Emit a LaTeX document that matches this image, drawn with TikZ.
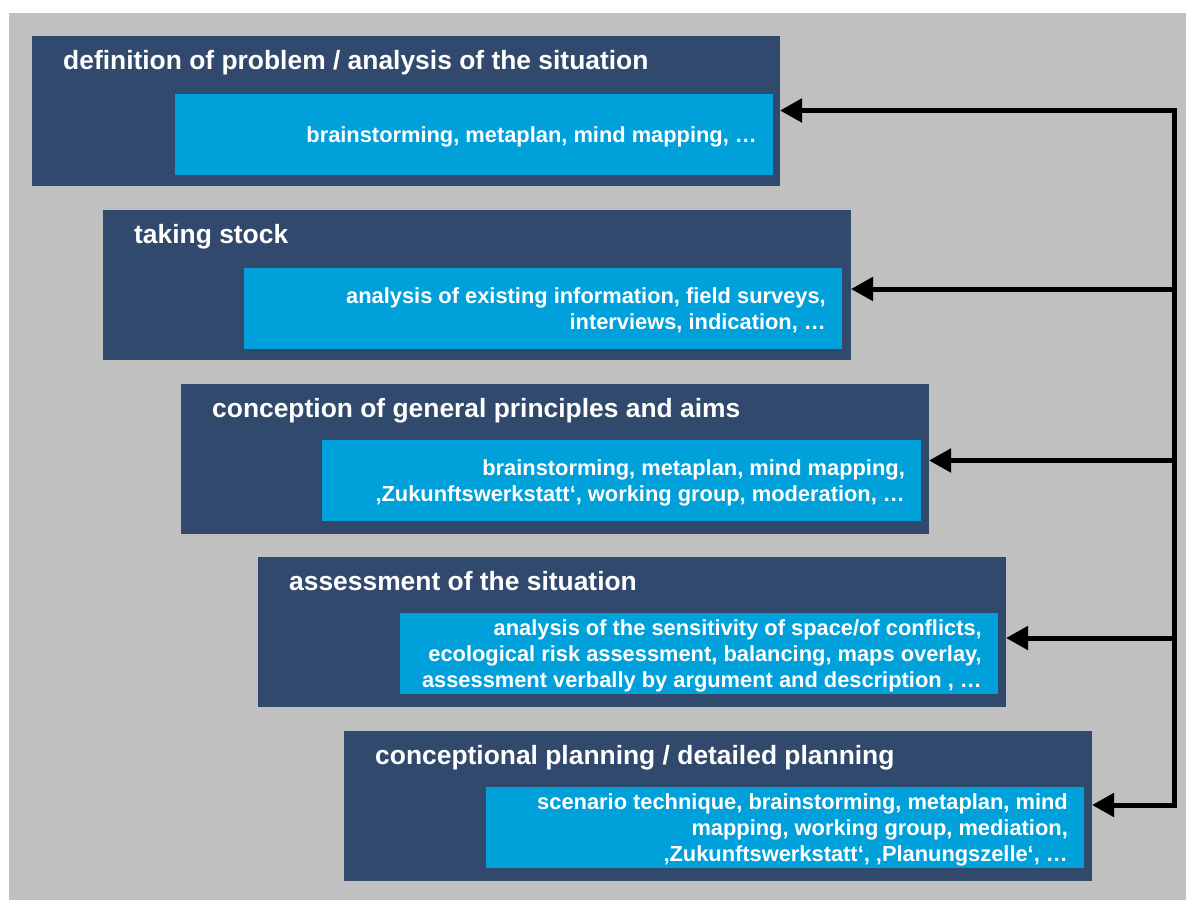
\documentclass[tikz,border=0pt]{standalone}
\usepackage{fontspec}
\setmainfont{Liberation Sans}
\usetikzlibrary{arrows.meta}
\definecolor{navy}{RGB}{50,73,110}
\definecolor{sky}{RGB}{0,160,218}
\definecolor{panel}{RGB}{192,192,192}
\tikzset{
  stagebox/.style={fill=navy, draw=none, inner sep=0pt, outer sep=0pt, anchor=north west,
    minimum width=748pt, minimum height=150pt},
  toolbox/.style={fill=sky, draw=none, inner sep=0pt, outer sep=0pt, anchor=north west,
    minimum width=598pt, minimum height=81pt},
  stagetitle/.style={text=white, font=\bfseries\fontsize{26.4}{30}\selectfont,
    anchor=base west, inner sep=0pt},
  tooltext/.style={text=white, font=\bfseries\fontsize{21.85}{26}\selectfont,
    align=right, anchor=east, inner sep=0pt},
  feedback/.style={line width=5pt, draw=black},
  tip/.style={-{Triangle[length=22pt,width=23pt]}}
}
\begin{document}
\begin{tikzpicture}[x=1pt,y=-1pt]
  \useasboundingbox (0,0) rectangle (1186,900);
  \fill[panel] (9,13) rectangle (1186,900);

  % stage 1
  \node[stagebox] (d1) at (32,36) {};
  \node[toolbox] (l1) at (175,94) {};
  \node[stagetitle] (t1) at (63,69) {definition of problem / analysis of the situation};
  \node[tooltext] (b1) at ([xshift=-16pt,yshift=-2pt]l1.east) {brainstorming, metaplan, mind mapping, …};

  % stage 2
  \node[stagebox] (d2) at (103,210) {};
  \node[toolbox] (l2) at (244,268) {};
  \node[stagetitle] (t2) at (134,243.5) {taking stock};
  \node[tooltext] (b2) at ([xshift=-16pt,yshift=-2pt]l2.east) {analysis of existing information, field surveys,\\ interviews, indication, …};

  % stage 3
  \node[stagebox] (d3) at (181,384) {};
  \node[toolbox, minimum width=599pt] (l3) at (322,440) {};
  \node[stagetitle] (t3) at (212,417.5) {conception of general principles and aims};
  \node[tooltext] (b3) at ([xshift=-16pt,yshift=-2pt]l3.east) {brainstorming, metaplan, mind mapping,\\ ‚Zukunftswerkstatt‘, working group, moderation, …};

  % stage 4
  \node[stagebox] (d4) at (258,557) {};
  \node[toolbox] (l4) at (400,613) {};
  \node[stagetitle] (t4) at (289,590.5) {assessment of the situation};
  \node[tooltext] (b4) at ([xshift=-16pt,yshift=-2pt]l4.east) {analysis of the sensitivity of space/of conflicts,\\ ecological risk assessment, balancing, maps overlay,\\ assessment verbally by argument and description , …};

  % stage 5
  \node[stagebox] (d5) at (344,731) {};
  \node[toolbox] (l5) at (486,787) {};
  \node[stagetitle] (t5) at (375,764.5) {conceptional planning / detailed planning};
  \node[tooltext] (b5) at ([xshift=-16pt,yshift=-2pt]l5.east) {scenario technique, brainstorming, metaplan, mind\\ mapping, working group, mediation,\\ ‚Zukunftswerkstatt‘, ‚Planungszelle‘, …};

  % feedback bus on the right
  \coordinate (a1) at (1174,110.5);
  \coordinate (a2) at (1174,289);
  \coordinate (a3) at (1174,460.5);
  \coordinate (a4) at (1174,638);
  \coordinate (a5) at (1174,805);

  \draw[feedback, {Triangle[length=22pt,width=23pt]}-{Triangle[length=22pt,width=23pt]}]
    (d1.east |- a1) -- (a1) -- (a5) -- (d5.east |- a5);
  \draw[feedback, tip] (a2) -- (d2.east |- a2);
  \draw[feedback, tip] (a3) -- (d3.east |- a3);
  \draw[feedback, tip] (a4) -- (d4.east |- a4);
\end{tikzpicture}
\end{document}
